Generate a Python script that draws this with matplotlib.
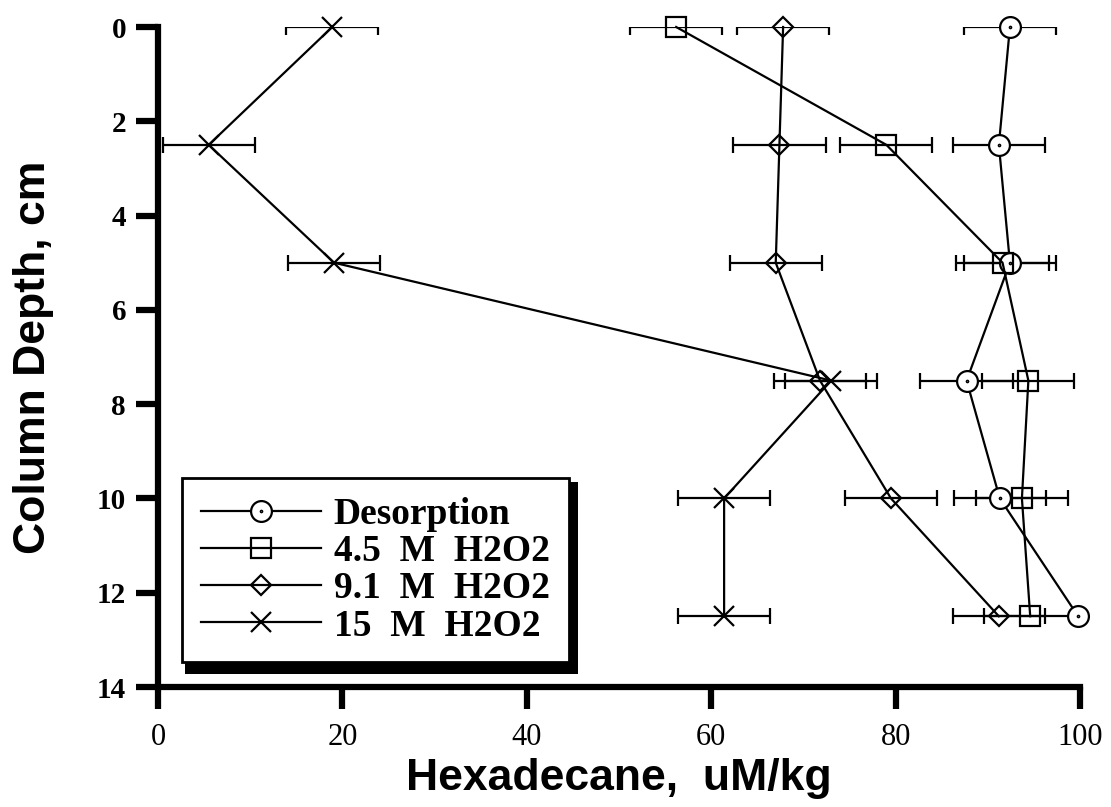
import matplotlib
matplotlib.use("Agg")
import matplotlib.pyplot as plt
from matplotlib.path import Path
from matplotlib.patches import Rectangle
from matplotlib.transforms import IdentityTransform

# Column depth (cm) of each sampled section
depth = [0, 2.5, 5, 7.5, 10, 12.5]

# Hexadecane remaining (uM/kg) for each treatment
desorption = [92.4, 91.2, 92.4, 87.7, 91.3, 99.8]
desorption_err = [5, 5, 5, 5, 5, 0]
h2o2_4_5 = [56.2, 79.0, 91.6, 94.4, 93.7, 94.6]
h2o2_4_5_err = [5, 5, 5, 5, 5, 5]
h2o2_9_1 = [67.8, 67.4, 67.0, 71.8, 79.5, 91.2]
h2o2_9_1_err = [5, 5, 5, 5, 5, 5]
h2o2_15 = [18.9, 5.5, 19.1, 73.0, 61.4, 61.4]
h2o2_15_err = [5, 5, 5, 5, 5, 5]

series_labels = ["Desorption", "4.5  M  H2O2", "9.1  M  H2O2", "15  M  H2O2"]
x_ticks = [0, 20, 40, 60, 80, 100]
y_ticks = [0, 2, 4, 6, 8, 10, 12, 14]

# open circle with a small centre dot
circle_dot = Path.make_compound_path(Path.unit_circle(), Path.circle((0, 0), 0.07))

styles = [
    dict(marker=circle_dot, ms=15, mfc="white"),
    dict(marker="s", ms=15, mfc="none"),
    dict(marker="D", ms=10.5, mfc="none"),
    dict(marker="x", ms=15, mfc="none"),
]
values = [desorption, h2o2_4_5, h2o2_9_1, h2o2_15]
errors = [desorption_err, h2o2_4_5_err, h2o2_9_1_err, h2o2_15_err]

W, H = 1111, 807
fig = plt.figure(figsize=(W / 100, H / 100), dpi=100)
ax = fig.add_axes([158 / W, 1 - 687 / H, (1080 - 158) / W, (687 - 27) / H])

handles = []
for vals, errs, st, lab in zip(values, errors, styles, series_labels):
    ax.errorbar(vals, depth, xerr=errs, fmt="none", ecolor="black",
                elinewidth=1.6, capsize=6, capthick=1.6, zorder=2)
    (ln,) = ax.plot(vals, depth, color="black", lw=1.6, marker=st["marker"],
                    ms=st["ms"], mfc=st["mfc"], mec="black", mew=1.6,
                    clip_on=False, zorder=3, label=lab)
    handles.append(ln)

ax.set_xlim(0, 100)
ax.set_ylim(14, 0)
ax.set_xticks(x_ticks)
ax.set_yticks(y_ticks)
ax.set_xticklabels([str(v) for v in x_ticks], fontfamily="Liberation Serif", fontsize=22)
ax.set_yticklabels([str(v) for v in y_ticks], fontfamily="Liberation Serif",
                   fontsize=21, fontweight="bold")

for side in ("top", "right"):
    ax.spines[side].set_visible(False)
for side in ("left", "bottom"):
    ax.spines[side].set_linewidth(4.5)
    ax.spines[side].set_capstyle("projecting")
ax.tick_params(axis="both", direction="out", length=16, width=4.5, color="black")
ax.tick_params(axis="y", pad=7)
ax.tick_params(axis="x", pad=10)

ax.set_xlabel("Hexadecane,  uM/kg", fontfamily="Liberation Sans", fontweight="bold", fontsize=32)
ax.set_ylabel("Column Depth, cm", fontfamily="Liberation Sans", fontweight="bold", fontsize=32)
ax.xaxis.set_label_coords(0.5, -0.107)
ax.yaxis.set_label_coords(-0.113, 0.5)

leg = ax.legend(handles=handles, loc="upper left", bbox_to_anchor=(182 / W, 1 - 478 / H),
                bbox_transform=fig.transFigure, borderaxespad=0,
                prop=dict(family="Liberation Serif", weight="bold", size=27),
                frameon=True, fancybox=False, framealpha=1, edgecolor="black",
                handlelength=3.2, handletextpad=0.35, labelspacing=0.06,
                borderpad=0.5)
leg.get_frame().set_linewidth(2)
leg.set_zorder(6)

# heavy drop shadow along the right and bottom of the legend box
fig.canvas.draw()
bb = leg.get_window_extent()
ax.add_patch(Rectangle((bb.x0 + 3, bb.y0 - 12), bb.width + 6, bb.height + 8,
                       transform=IdentityTransform(), facecolor="black",
                       edgecolor="none", zorder=5.5, clip_on=False))

fig.savefig("out.png", dpi=100)
